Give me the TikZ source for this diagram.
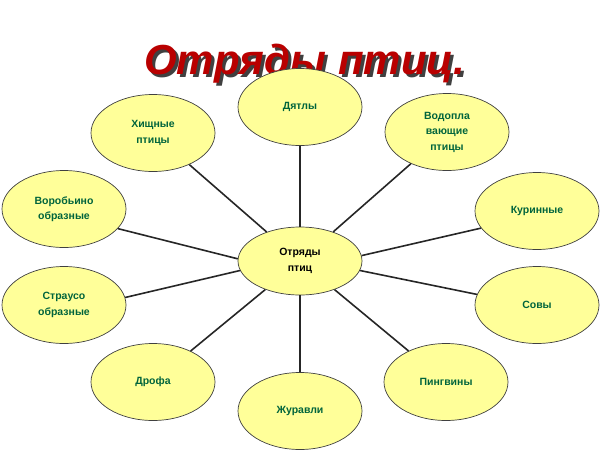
\documentclass[tikz,border=0pt]{standalone}
\usepackage{fontspec}
\setmainfont{Liberation Sans}
\usetikzlibrary{shapes.geometric}
\definecolor{paleyellow}{RGB}{255,255,153}
\definecolor{leafgreen}{RGB}{0,100,60}
\definecolor{titlered}{RGB}{185,0,0}

\begin{document}
\begin{tikzpicture}[x=1pt,y=-1pt,
	order/.style={ellipse, draw=black!75, line width=0.7pt, fill=paleyellow,
		minimum width=124pt, minimum height=77pt, inner sep=0pt, align=center,
		font=\bfseries\fontsize{10.5}{15.5}\selectfont, text=leafgreen},
	hub/.style={order, minimum height=68pt, text=black},
	link/.style={line width=1.6pt, black!85}]
	\useasboundingbox (0,0) rectangle (600,450);
	% title with shadow
	\node[anchor=base, font=\bfseries\itshape\fontsize{42}{42}\selectfont, text=titlered] (title) at (305,74)
		{\makebox[0pt][l]{\hspace{3pt}\raisebox{-3pt}{\color{black!75}Отряды птиц.}}Отряды птиц.};
	% ellipses
	\node[hub] (birds) at (300,261) {Отряды\\птиц};
	\node[order] (woodpeckers) at (300,107) {Дятлы};
	\node[order] (raptors) at (153,133) {Хищные\\птицы};
	\node[order] (waterfowl) at (447,132) {Водопла\\вающие\\птицы};
	\node[order] (passerines) at (64,209) {Воробьино\\образные};
	\node[order] (galliformes) at (537,211) {Куринные};
	\node[order] (ratites) at (64,305) {Страусо\\образные};
	\node[order] (owls) at (537,305) {Совы};
	\node[order] (bustards) at (153,382) {Дрофа};
	\node[order] (penguins) at (446,382) {Пингвины};
	\node[order] (cranes) at (300,411) {Журавли};
	% links
	\foreach \o in {woodpeckers,raptors,waterfowl,bustards,penguins,cranes}
		\draw[link] (birds) -- (\o);
	\draw[link] (birds.178) -- (passerines.-20);
	\draw[link] (birds.5) -- (galliformes.197);
	\draw[link] (birds.189) -- (ratites.7);
	\draw[link] (birds.-9) -- (owls.170);
\end{tikzpicture}
\end{document}
